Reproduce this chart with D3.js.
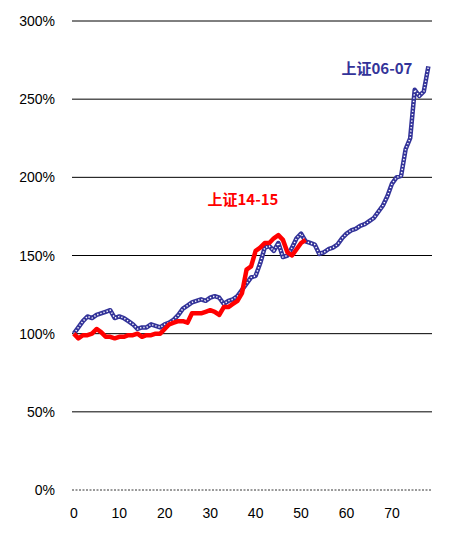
<!DOCTYPE html>
<html>
<head>
<meta charset="utf-8">
<script src="https://cdn.jsdelivr.net/npm/d3@7"></script>
<style>
    body { margin: 0; background: #fff; }
    svg { display: block; font-family: "Liberation Sans", Arial, sans-serif; }
</style>
</head>
<body>
<div id="chart"></div>
<script>
"use strict";

// 上证06-07, percent of start, one value per trading week
const series0607 = [100, 104, 108, 111, 110, 112, 113, 114, 115, 110,
    111, 110, 108, 106, 103, 104, 104, 106, 105, 104,
    106, 107, 109, 112, 116, 118, 120, 121, 122, 121,
    123, 124, 123, 119, 121, 122, 124, 128, 132, 136,
    137, 145, 155, 156, 153, 158, 149, 150, 155, 161,
    164, 159, 158, 157, 151, 152, 154, 155, 157, 161,
    164, 166, 167, 169, 170, 172, 174, 178, 182, 188,
    196, 200, 201, 218, 225, 256, 252, 255, 271];

// 上证14-15
const series1415 = [100, 97, 99, 99, 100, 103, 101, 98, 98, 97,
    98, 98, 99, 99, 100, 98, 99, 99, 100, 100,
    103, 106, 107, 108, 108, 107, 113, 113, 113, 114,
    115, 114, 112, 117, 117, 119, 121, 126, 141, 143,
    153, 155, 158, 158, 161, 163, 160, 152, 150, 154,
    158, 160];

const yTicks = [0, 50, 100, 150, 200, 250, 300];
const xTicks = [0, 10, 20, 30, 40, 50, 60, 70];

const width = 449, height = 547;
const margin = {top: 21, right: 17, bottom: 57, left: 72};

const svg = d3.select("#chart")
    .append("svg")
    .attr("width", width)
    .attr("height", height);

const x = d3.scaleLinear()
    .domain([-0.4, 78.8])
    .range([margin.left, width - margin.right]);
const y = d3.scaleLinear()
    .domain([0, 300])
    .range([height - margin.bottom, margin.top]);

// grid lines
svg.append("g")
    .selectAll("line")
    .data(yTicks)
    .join("line")
    .attr("x1", margin.left)
    .attr("x2", width - margin.right)
    .attr("y1", d => y(d))
    .attr("y2", d => y(d))
    .attr("stroke", "#000")
    .attr("stroke-width", d => d === 0 ? 0.8 : 1)
    .attr("stroke-dasharray", d => d === 0 ? "2,1.5" : null);

// y labels
svg.append("g")
    .selectAll("text")
    .data(yTicks)
    .join("text")
    .attr("x", 55)
    .attr("y", d => y(d))
    .attr("dy", "0.36em")
    .attr("text-anchor", "end")
    .attr("font-size", 14)
    .attr("fill", "#000")
    .text(d => d + "%");

// x labels
svg.append("g")
    .selectAll("text")
    .data(xTicks)
    .join("text")
    .attr("x", d => x(d))
    .attr("y", 518)
    .attr("text-anchor", "middle")
    .attr("font-size", 14)
    .attr("fill", "#000")
    .text(d => d);

const line = d3.line()
    .x((d, i) => x(i))
    .y(d => y(d));

// 06-07: navy stroke with a white dotted core
svg.append("path")
    .datum(series0607)
    .attr("fill", "none")
    .attr("stroke", "#333399")
    .attr("stroke-width", 4.5)
    .attr("stroke-linejoin", "round")
    .attr("d", line);
svg.append("path")
    .datum(series0607)
    .attr("fill", "none")
    .attr("stroke", "#fff")
    .attr("stroke-width", 1.5)
    .attr("stroke-dasharray", "1.3,2")
    .attr("d", line);

svg.append("path")
    .datum(series1415)
    .attr("fill", "none")
    .attr("stroke", "#ff0000")
    .attr("stroke-width", 4.5)
    .attr("stroke-linejoin", "round")
    .attr("d", line);

svg.append("text")
    .attr("x", 243)
    .attr("y", 205)
    .attr("text-anchor", "middle")
    .attr("font-size", 15)
    .attr("font-weight", "bold")
    .attr("fill", "#ff0000")
    .attr("font-family", "'Noto Sans CJK SC', 'Liberation Sans', sans-serif")
    .text("上证14-15");

svg.append("text")
    .attr("x", 377)
    .attr("y", 74)
    .attr("text-anchor", "middle")
    .attr("font-size", 15)
    .attr("font-weight", "bold")
    .attr("fill", "#333399")
    .attr("font-family", "'Noto Sans CJK SC', 'Liberation Sans', sans-serif")
    .text("上证06-07");
</script>
</body>
</html>
